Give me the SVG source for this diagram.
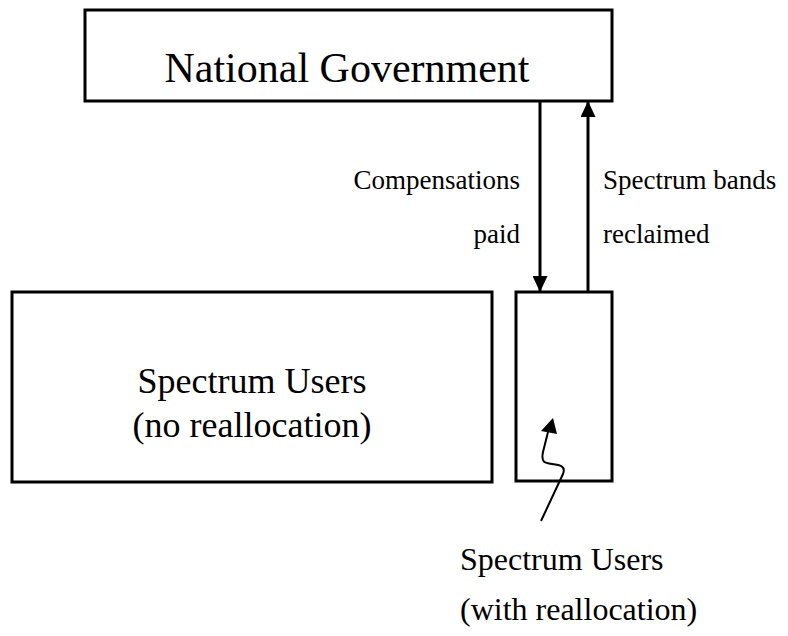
<svg xmlns="http://www.w3.org/2000/svg" width="788" height="636" viewBox="0 0 788 636">
<style>
.box{fill:#fff;stroke:#000;stroke-width:3}
text{font-family:'Liberation Serif','Times New Roman','DejaVu Serif',serif;fill:#000}
.conn{stroke:#000;stroke-width:3;fill:none}
</style>
<defs>
<marker id="ah" markerWidth="16" markerHeight="15" refX="16" refY="7.5" orient="auto" markerUnits="userSpaceOnUse">
<path d="M0,0 L16,7.5 L0,15 Z" fill="#000"/>
</marker>
</defs>
<rect width="788" height="636" fill="#fff"/>
<g id="national-government">
<rect class="box" x="85" y="10" width="527" height="91"/>
<text font-family="Liberation Serif, serif" x="347" y="82" font-size="42" text-anchor="middle">National Government</text>
</g>
<g id="users-no-realloc">
<rect class="box" x="12" y="292" width="480" height="190"/>
<text font-family="Liberation Serif, serif" x="252" y="393" font-size="36" text-anchor="middle">Spectrum Users</text>
<text font-family="Liberation Serif, serif" x="252" y="437" font-size="36" text-anchor="middle">(no reallocation)</text>
</g>
<g id="users-with-realloc">
<rect class="box" x="516" y="292" width="96" height="189"/>
</g>
<g id="connectors">
<line class="conn" x1="540" y1="101" x2="540" y2="292" marker-end="url(#ah)"/>
<line class="conn" x1="588" y1="292" x2="588" y2="101" marker-end="url(#ah)"/>
<path d="M541,521 L563,474 C566,466 560,465 552,464 C544,463 541,462 543,452 L548,432" stroke="#000" stroke-width="2" fill="none"/>
<polygon points="553,418 541,431 557,434" fill="#000"/>
</g>
<g id="labels">
<text font-family="Liberation Serif, serif" x="520" y="189" font-size="27" text-anchor="end">Compensations</text>
<text font-family="Liberation Serif, serif" x="520" y="243" font-size="27" text-anchor="end">paid</text>
<text font-family="Liberation Serif, serif" x="603" y="189" font-size="27">Spectrum bands</text>
<text font-family="Liberation Serif, serif" x="603" y="243" font-size="27">reclaimed</text>
<text font-family="Liberation Serif, serif" x="460" y="570" font-size="32">Spectrum Users</text>
<text font-family="Liberation Serif, serif" x="460" y="620" font-size="32">(with reallocation)</text>
</g>
</svg>
